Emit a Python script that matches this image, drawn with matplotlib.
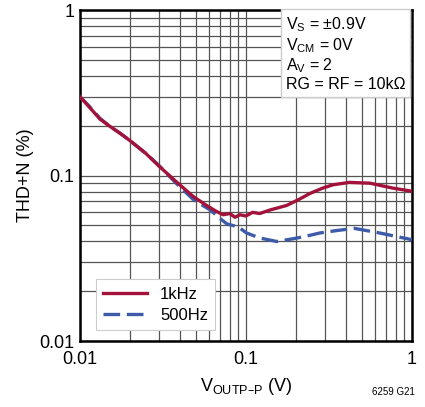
import matplotlib.pyplot as plt

plt.rcParams['font.family'] = ['Liberation Sans', 'DejaVu Sans']

# 1kHz
v_1k = [0.010, 0.0113, 0.0132, 0.015, 0.0175, 0.020, 0.025, 0.030, 0.038, 0.048, 0.058, 0.066,
        0.073, 0.080, 0.086, 0.092, 0.100, 0.110, 0.121, 0.140, 0.176, 0.210, 0.243, 0.290,
        0.335, 0.420, 0.560, 0.770, 1.0]
thd_1k = [0.300, 0.262, 0.220, 0.200, 0.180, 0.163, 0.136, 0.114, 0.092, 0.075, 0.066, 0.061,
          0.058, 0.059, 0.056, 0.058, 0.057, 0.060, 0.059, 0.062, 0.066, 0.072, 0.078, 0.084,
          0.088, 0.091, 0.090, 0.084, 0.0805]

# 500Hz
v_500 = [0.010, 0.0113, 0.0132, 0.015, 0.0175, 0.020, 0.025, 0.030, 0.038, 0.048, 0.055, 0.061,
         0.070, 0.077, 0.090, 0.101, 0.121, 0.153, 0.192, 0.230, 0.279, 0.350, 0.450, 0.640, 1.0]
thd_500 = [0.300, 0.265, 0.222, 0.200, 0.180, 0.163, 0.136, 0.115, 0.090, 0.072, 0.066, 0.062,
           0.055, 0.051, 0.049, 0.045, 0.042, 0.040, 0.0415, 0.043, 0.045, 0.0465, 0.048, 0.045, 0.041]

fig = plt.figure(figsize=(4.25, 4.07), dpi=100)
ax = fig.add_axes([0.188, 0.162, 0.781, 0.813])

ax.plot(v_1k, thd_1k, color='#a3123a', lw=2.4, label='1kHz', zorder=4)
ax.plot(v_500, thd_500, color='#3d5ba9', lw=2.4, ls=(0, (5, 2)), label='500Hz', zorder=3)

ax.set_xscale('log')
ax.set_yscale('log')
ax.set_xlim(0.01, 1)
ax.set_ylim(0.01, 1)
ax.set_xticks([0.01, 0.1, 1])
ax.set_xticklabels(['0.01', '0.1', '1'])
ax.set_yticks([0.01, 0.1, 1])
ax.set_yticklabels(['0.01', '0.1', '1'])
ax.minorticks_on()
ax.xaxis.set_minor_formatter(plt.NullFormatter())
ax.yaxis.set_minor_formatter(plt.NullFormatter())
ax.tick_params(which='both', length=0, labelsize=13, pad=4)
ax.tick_params(axis='x', pad=7)
ax.grid(which='both', color='#555555', lw=0.9)
for s in ax.spines.values():
    s.set_linewidth(1.8)

ax.set_xlabel('V$_{\\mathregular{OUTP\u2013P}}$ (V)', fontsize=13, labelpad=6)
ax.set_ylabel('THD+N (%)', fontsize=13, labelpad=4)

ax.text(0.62, 0.985,
        'V$_{\\mathregular{S}}$ = \u00b10.9V\nV$_{\\mathregular{CM}}$ = 0V\nA$_{\\mathregular{V}}$ = 2\nRG = RF = 10k\u03a9',
        transform=ax.transAxes, ha='left', va='top', fontsize=11.5, linespacing=1.15,
        bbox=dict(facecolor='white', edgecolor='#cccccc', boxstyle='square,pad=0.3'), zorder=5)

leg = ax.legend(loc='lower left', bbox_to_anchor=(0.048, 0.033), borderaxespad=0, fontsize=12,
                frameon=True, fancybox=False, edgecolor='#cccccc', framealpha=1, handlelength=2.6,
                borderpad=0.45, labelspacing=0.35)
leg.get_frame().set_linewidth(0.8)

fig.text(0.975, 0.025, '6259 G21', ha='right', va='bottom', fontsize=7)

fig.savefig('out.png', dpi=100)
